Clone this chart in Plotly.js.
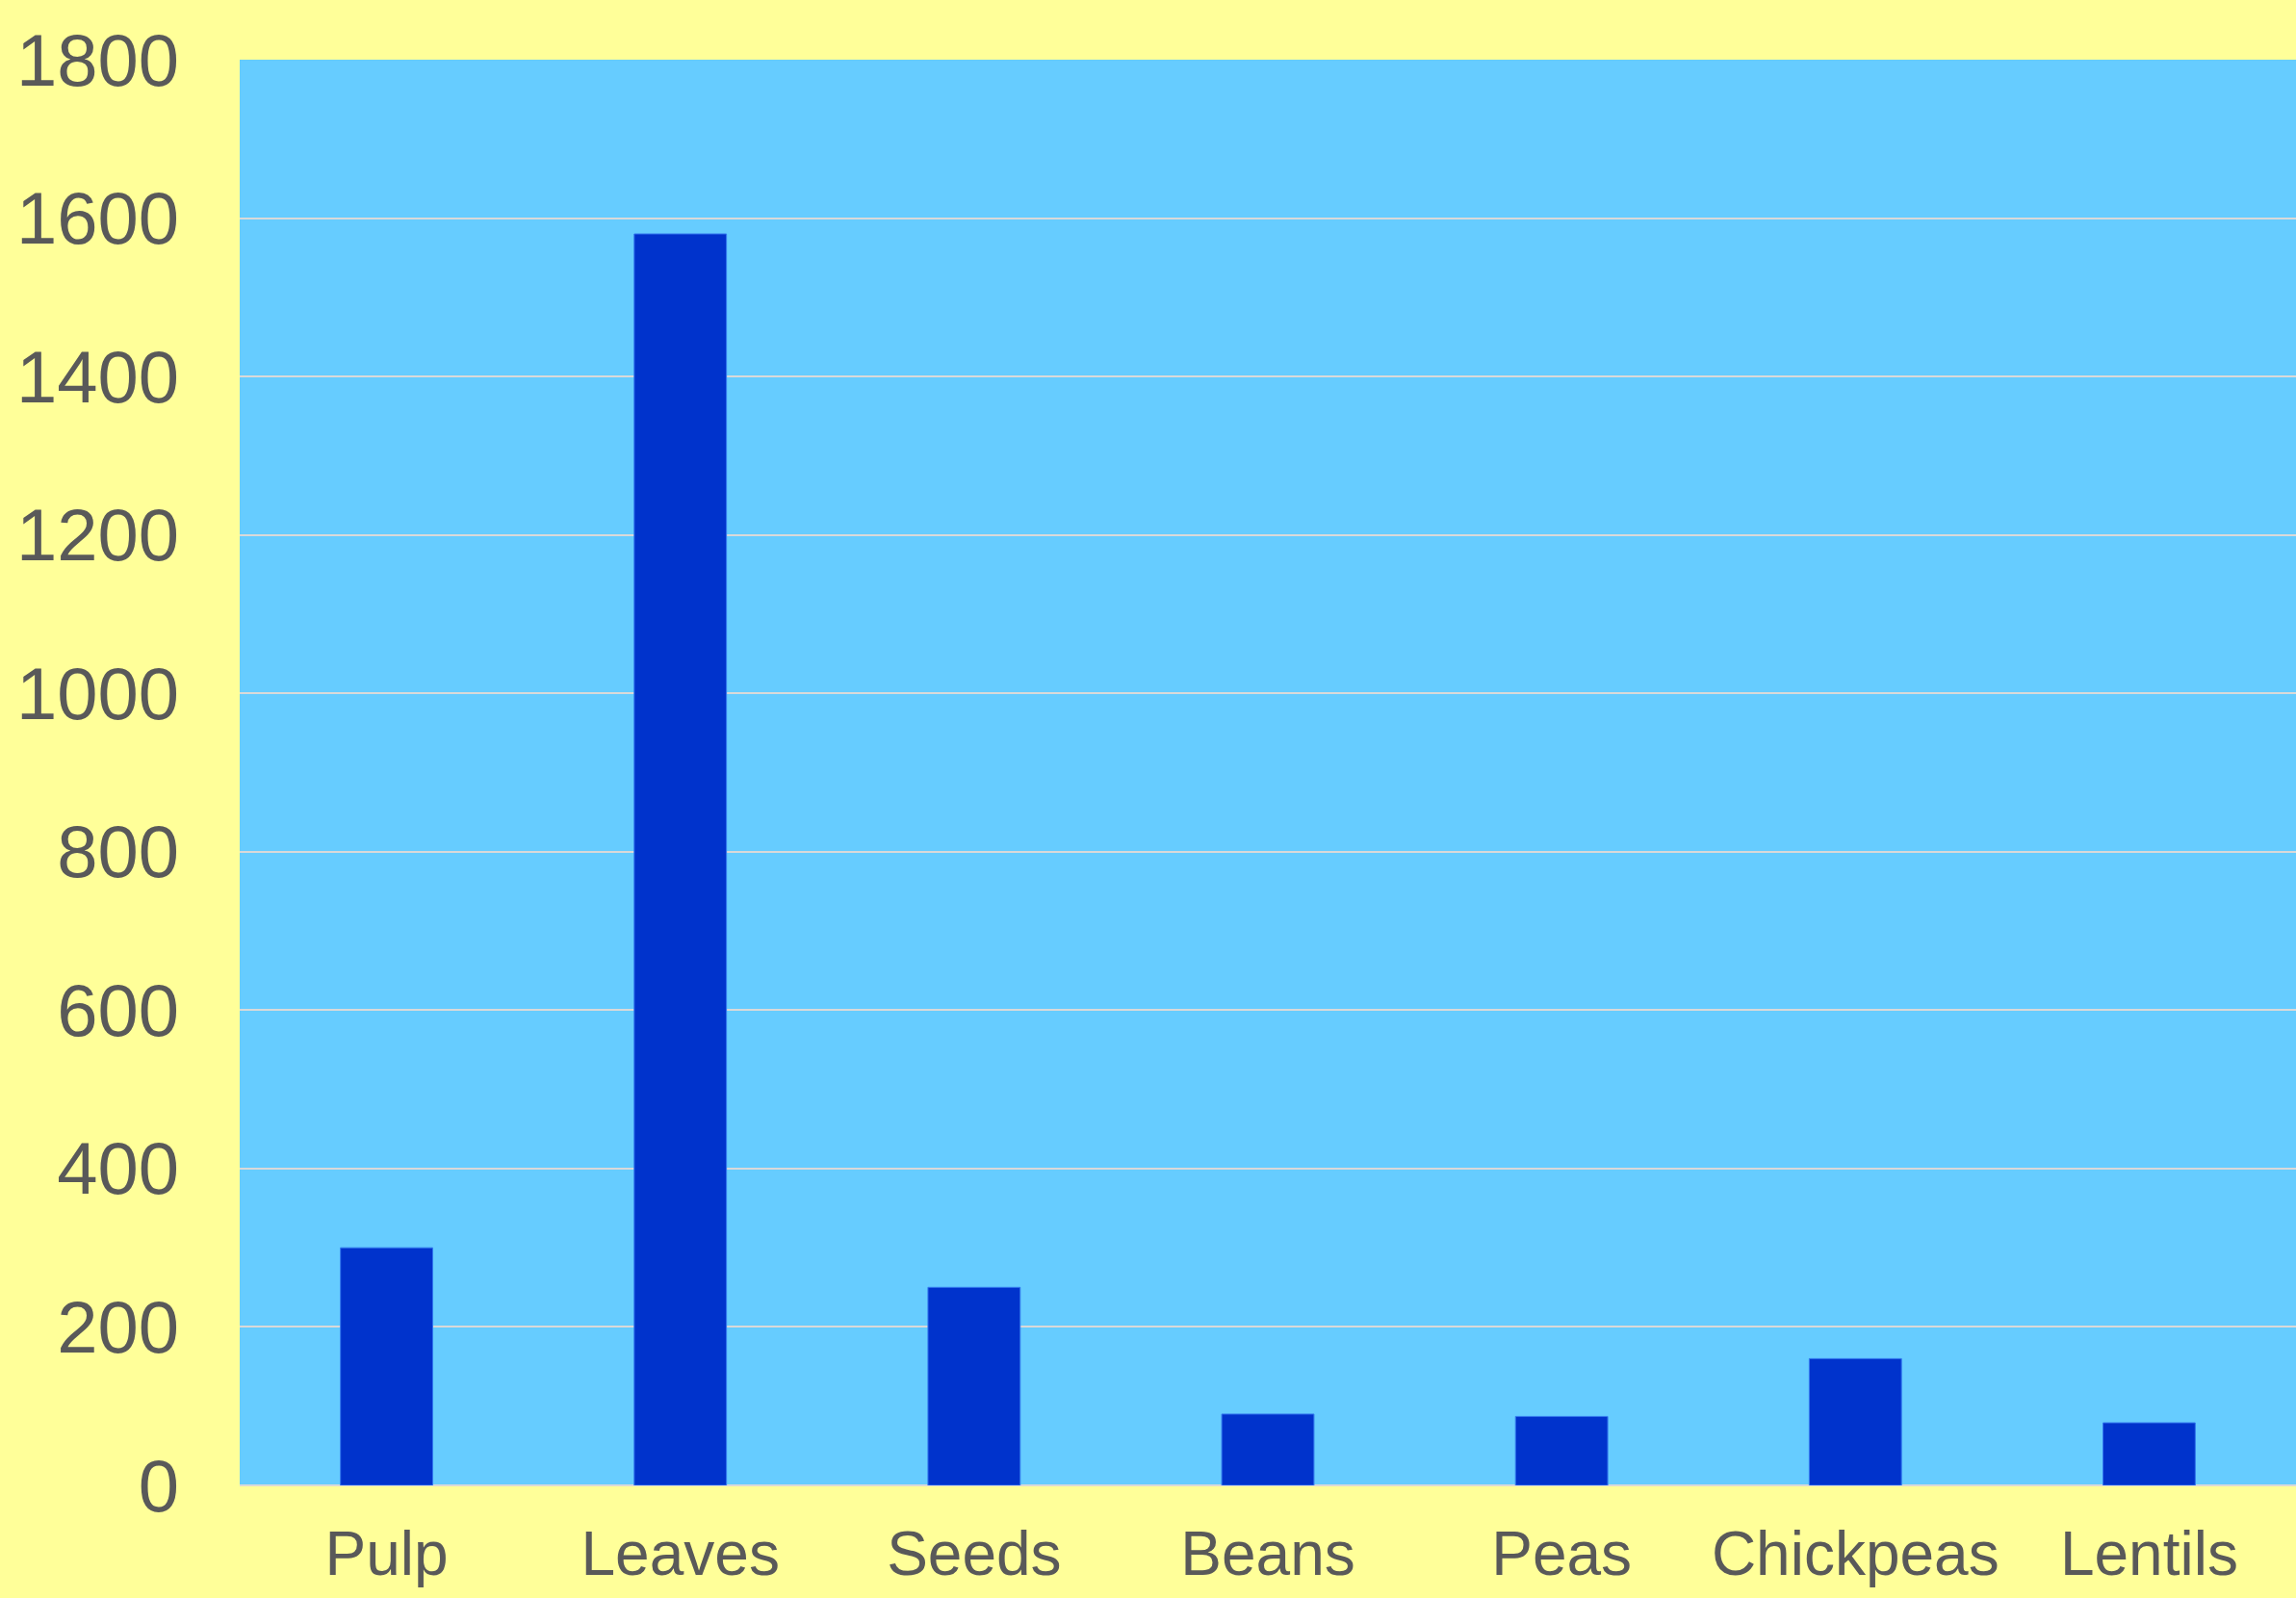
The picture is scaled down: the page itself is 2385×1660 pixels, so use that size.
<!DOCTYPE html>
<html>
<head>
<meta charset="utf-8">
<script src="https://cdn.plot.ly/plotly-3.0.1.min.js"></script>
<style>html,body{margin:0;padding:0;background:#FFFF99;}#chart{width:2385px;height:1660px;}</style>
</head>
<body>
<div id="chart"></div>
<script>
const categories = ["Pulp", "Leaves", "Seeds", "Beans", "Peas", "Chickpeas", "Lentils"];
const values = [300, 1580, 250, 90, 87, 160, 79];
const yTicks = [0, 200, 400, 600, 800, 1000, 1200, 1400, 1600, 1800];

const trace = {
  type: "bar",
  x: categories,
  y: values,
  marker: {color: "#0033CC", line: {color: "#3377EE", width: 1}},
  hoverinfo: "x+y"
};

const layout = {
  width: 2385,
  height: 1660,
  paper_bgcolor: "#FFFF99",
  plot_bgcolor: "#66CCFF",
  margin: {l: 249, r: 0, t: 62, b: 117, pad: 0},
  showlegend: false,
  bargap: 0.686,
  font: {family: "Liberation Sans, Arial, sans-serif", color: "#595959"},
  xaxis: {
    type: "category",
    range: [-0.5, 6.5],
    showgrid: false,
    showline: false,
    zeroline: false,
    ticks: "",
    tickfont: {size: 64, color: "#595959"},
    ticklabelstandoff: 28
  },
  yaxis: {
    range: [0, 1800],
    tickvals: yTicks,
    ticktext: yTicks.map(String),
    showgrid: true,
    gridcolor: "#D9D9D9",
    gridwidth: 2,
    zeroline: true,
    zerolinecolor: "#D9D9D9",
    zerolinewidth: 2,
    showline: false,
    ticks: "",
    tickfont: {size: 76, color: "#595959"},
    ticklabelstandoff: 62
  }
};

Plotly.newPlot("chart", [trace], layout, {displayModeBar: false, staticPlot: true});
</script>
</body>
</html>
